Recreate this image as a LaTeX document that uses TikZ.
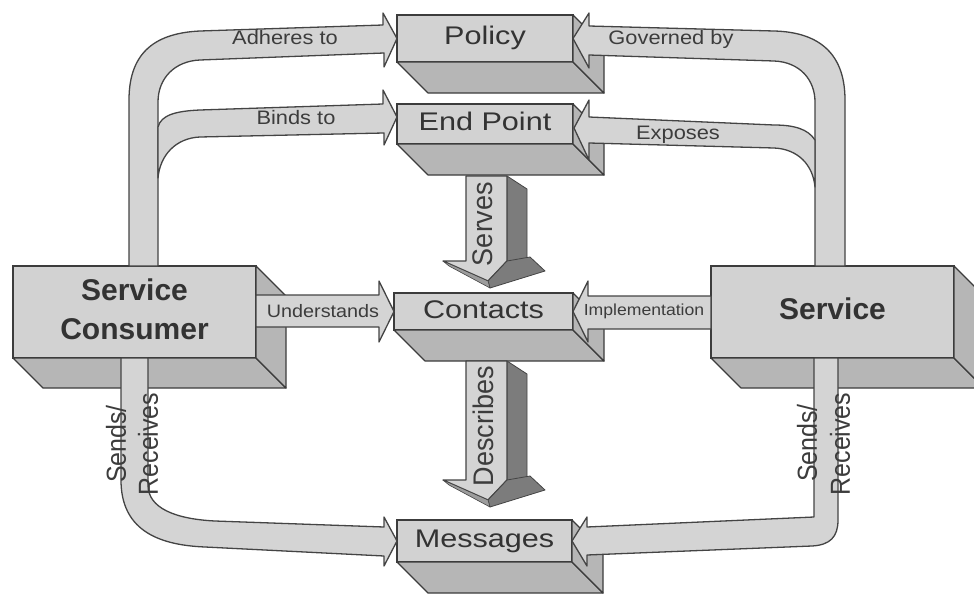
\documentclass[tikz,border=0pt]{standalone}
\usepackage{fontspec}
\setmainfont{Liberation Sans}
\newfontfamily\boxlblfont[FakeStretch=1.2]{Liberation Sans}
\newfontfamily\arrlblfont[FakeStretch=1.12]{Liberation Sans}
\newfontfamily\arrlblfontb[FakeStretch=1.1]{Liberation Sans}
\usetikzlibrary{calc}
\definecolor{facec}{HTML}{D2D2D2}
\definecolor{sidec}{HTML}{B6B6B6}
\definecolor{edgec}{HTML}{3C3C3C}
\definecolor{bandc}{HTML}{D4D4D4}
\definecolor{bandedge}{HTML}{444444}
\definecolor{darkc}{HTML}{7C7C7C}
\definecolor{midc}{HTML}{9C9C9C}
\definecolor{textc}{HTML}{333333}
\definecolor{textl}{HTML}{3C3C3C}
\tikzset{
  frontbox/.style={draw=edgec, line width=1.4pt, fill=facec, inner sep=0pt, outer sep=0pt, text=textc, align=center},
  sideface/.style={draw=edgec, line width=1.2pt, fill=sidec, line join=round},
  band/.style={draw=bandedge, line width=1.3pt, fill=bandc, line join=round},
  darkface/.style={draw=bandedge, line width=0.8pt, fill=darkc, line join=round},
  sliver/.style={draw=bandedge, line width=0.6pt, fill=midc, line join=round},
  boxlbl/.style={font=\boxlblfont\fontsize{25.5}{30}\selectfont, text height=18pt, text depth=5pt},
  bigbold/.style={font=\bfseries\fontsize{30}{39}\selectfont, text depth=6pt},
  arrlbl/.style={text=textl, font=\arrlblfont\fontsize{19.5}{22}\selectfont, inner sep=0pt, anchor=base},
  vlbl/.style={text=textl, rotate=90, inner sep=0pt},
}
\newcommand\boxfaces[2]{%
  \draw[sideface] (#1.south west) -- (#1.south east) -- ($(#1.south east)+(#2,#2)$) -- ($(#1.south west)+(#2,#2)$) -- cycle;
  \draw[sideface] (#1.north east) -- ($(#1.north east)+(#2,#2)$) -- ($(#1.south east)+(#2,#2)$) -- (#1.south east) -- cycle;
}
\newcommand\vdarrow[2]{%
  \draw[darkface] (507,#1) -- (527,#1+13) -- (527,#2) -- (507,#2) -- cycle;
  \draw[band] (466,#1) -- (507,#1) -- (507,#2) -- (488,#2+20) -- (443,#2) -- (466,#2) -- cycle;
  \draw[darkface] (507,#2) -- (530,#2-4) -- (545,#2+10) -- (490,#2+27) -- (488,#2+20) -- cycle;
  \draw[sliver] (443,#2) -- (488,#2+20) -- (490,#2+27) -- (449,#2+5) -- cycle;
}
\begin{document}
\begin{tikzpicture}[x=1pt,y=-1pt]
\useasboundingbox (0,0) rectangle (974,594);
\clip (0,0) rectangle (974,594);

% boxes
\node[frontbox, boxlbl, minimum width=176pt, minimum height=47pt] (policy) at (485,38.5) {Policy};
\boxfaces{policy}{31}
\node[frontbox, boxlbl, minimum width=176pt, minimum height=40pt] (endpoint) at (485,124) {End Point};
\boxfaces{endpoint}{31}
\node[frontbox, boxlbl, minimum width=179pt, minimum height=37pt] (contacts) at (483.5,311.5) {Contacts};
\boxfaces{contacts}{31}
\node[frontbox, boxlbl, minimum width=175pt, minimum height=42pt] (messages) at (484.5,541) {Messages};
\boxfaces{messages}{31}
\node[frontbox, bigbold, minimum width=243pt, minimum height=92pt] (consumer) at (134.5,312) {Service\\Consumer};
\boxfaces{consumer}{30}
\node[frontbox, bigbold, minimum width=243pt, minimum height=92pt] (service) at (832.5,312) {Service};
\boxfaces{service}{30}

% block arrows
\draw[band] (129,266) -- (129,100) .. controls (129,50) and (158,33) .. (200,31) -- (383,25) -- (383,13) -- (policy.west) -- (384,67) -- (384,53) -- (200,60) .. controls (175,61) and (158,78) .. (158,102) -- (158,266) -- cycle;
\draw[band] (158,127) .. controls (161,115) and (176,111) .. (200,110) -- (383,104) -- (383,90) -- (397,117) -- (384,145) -- (384,133) -- (200,137) .. controls (176,138) and (160,155) .. (158,178) -- cycle;
\draw[band] (845,266) -- (845,100) .. controls (845,50) and (815,32) .. (774,31) -- (589,26) -- (589,13) -- (policy.east) -- (589,68) -- (589,55) -- (774,61) .. controls (800,62) and (815,80) .. (815,102) -- (815,266) -- cycle;
\draw[band] (815,140) .. controls (808,129) and (794,125) .. (774,125) -- (589,117) -- (589,100) -- (574,128) -- (589,160) -- (589,143) -- (774,148) .. controls (798,149) and (813,165) .. (815,187) -- cycle;
\draw[band] (256,295) -- (379,295) -- (379,281) -- (contacts.west) -- (379,342) -- (379,327) -- (256,327) -- cycle;
\draw[band] (711,296) -- (588,296) -- (588,281) -- (contacts.east) -- (588,342) -- (588,329) -- (711,329) -- cycle;
\draw[band] (121,358) -- (121,480) .. controls (121,528) and (155,545) .. (205,547) -- (384,556) -- (384,566) -- (messages.west) -- (384,517) -- (384,527) -- (215,521) .. controls (175,519) and (148,508) .. (148,485) -- (148,358) -- cycle;
\draw[band] (838,358) -- (838,520) .. controls (838,537) and (830,545) .. (812,546) -- (587,555) -- (587,566) -- (messages.east) -- (587,517) -- (587,527) -- (814,517) -- (814,358) -- cycle;
\vdarrow{176}{261}
\vdarrow{361}{480}

% labels
\node[arrlbl] (ladh) at (285,45) {Adheres to};
\node[arrlbl] (lbind) at (296,124) {Binds to};
\node[arrlbl] (lgov) at (671,45) {Governed by};
\node[arrlbl] (lexp) at (678,139) {Exposes};
\node[arrlbl, font=\arrlblfontb\fontsize{18}{20}\selectfont] (lund) at (323,317.5) {Understands};
\node[arrlbl, font=\arrlblfontb\fontsize{16}{18}\selectfont] (limp) at (644,315.7) {Implementation};
\node[vlbl, font=\fontsize{25}{28}\selectfont] (lsendl) at (116,444) {\scalebox{1}[1.1]{Sends/}};
\node[vlbl, font=\fontsize{25}{28}\selectfont] (lrecl) at (148,444) {\scalebox{1}[1.1]{Receives}};
\node[vlbl, font=\fontsize{25}{28}\selectfont] (lsendr) at (807,443) {\scalebox{1}[1.1]{Sends/}};
\node[vlbl, font=\fontsize{25}{28}\selectfont] (lrecr) at (840,444) {\scalebox{1}[1.1]{Receives}};
\node[vlbl, font=\fontsize{27}{30}\selectfont] (lserv) at (483,224) {\scalebox{1}[1.05]{Serves}};
\node[vlbl, font=\fontsize{27}{30}\selectfont] (ldesc) at (483,426) {\scalebox{1}[1.05]{Describes}};
\end{tikzpicture}
\end{document}
